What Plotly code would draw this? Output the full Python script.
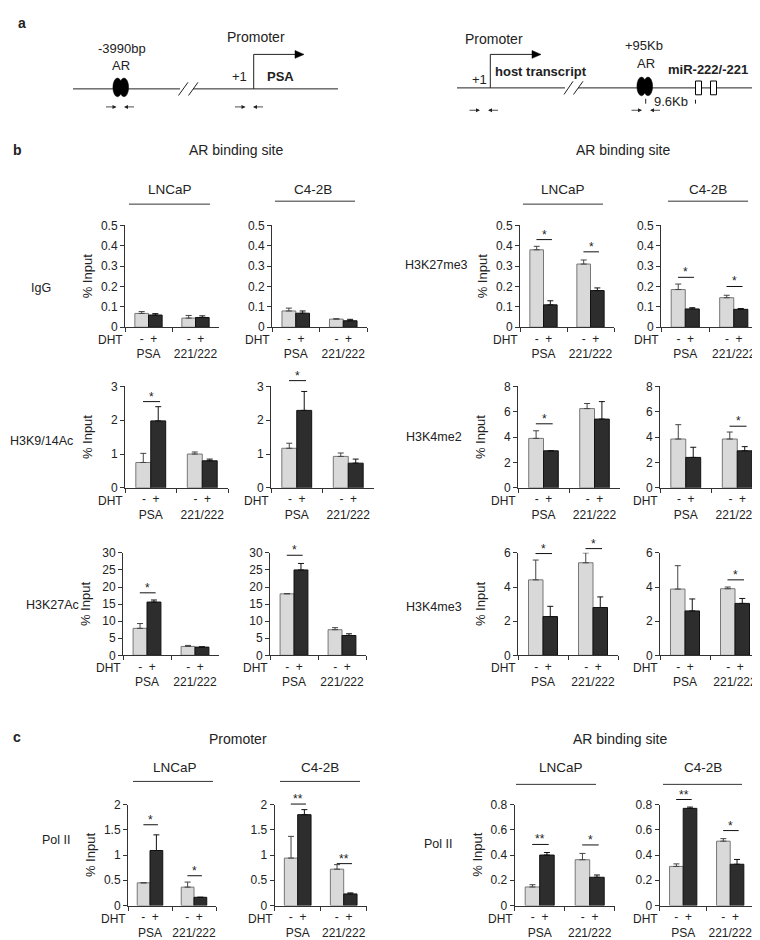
import plotly.graph_objects as go

W, H = 760, 940
FONT = "Liberation Sans, Arial, sans-serif"
TXT = "#222222"


def px(x):
    return x / W


def py(y):
    return 1 - y / H


# ---------------- data ----------------
categories = ["PSA", "221/222"]
dht_labels = ["-", "+"]

# Panel b, AR binding site (DHT - / DHT +, mean and error), % Input
igg_lncap_neg = [0.068, 0.045]
igg_lncap_neg_err = [0.009, 0.013]
igg_lncap_pos = [0.060, 0.048]
igg_lncap_pos_err = [0.007, 0.008]

igg_c42b_neg = [0.080, 0.040]
igg_c42b_neg_err = [0.014, 0.002]
igg_c42b_pos = [0.069, 0.032]
igg_c42b_pos_err = [0.011, 0.007]

k27me3_lncap_neg = [0.38, 0.31]
k27me3_lncap_neg_err = [0.017, 0.02]
k27me3_lncap_pos = [0.11, 0.18]
k27me3_lncap_pos_err = [0.02, 0.013]

k27me3_c42b_neg = [0.185, 0.145]
k27me3_c42b_neg_err = [0.027, 0.012]
k27me3_c42b_pos = [0.09, 0.088]
k27me3_c42b_pos_err = [0.006, 0.004]

k9ac_lncap_neg = [0.75, 1.0]
k9ac_lncap_neg_err = [0.27, 0.06]
k9ac_lncap_pos = [1.98, 0.8]
k9ac_lncap_pos_err = [0.42, 0.05]

k9ac_c42b_neg = [1.17, 0.93]
k9ac_c42b_neg_err = [0.15, 0.10]
k9ac_c42b_pos = [2.29, 0.73]
k9ac_c42b_pos_err = [0.56, 0.12]

k4me2_lncap_neg = [3.9, 6.25]
k4me2_lncap_neg_err = [0.6, 0.4]
k4me2_lncap_pos = [2.92, 5.42]
k4me2_lncap_pos_err = [0.0, 1.38]

k4me2_c42b_neg = [3.85, 3.85]
k4me2_c42b_neg_err = [1.13, 0.55]
k4me2_c42b_pos = [2.4, 2.92]
k4me2_c42b_pos_err = [0.8, 0.33]

k27ac_lncap_neg = [7.9, 2.6]
k27ac_lncap_neg_err = [1.4, 0.3]
k27ac_lncap_pos = [15.6, 2.4]
k27ac_lncap_pos_err = [0.6, 0.1]

k27ac_c42b_neg = [18.0, 7.5]
k27ac_c42b_neg_err = [0.1, 0.6]
k27ac_c42b_pos = [25.0, 5.8]
k27ac_c42b_pos_err = [1.9, 0.5]

k4me3_lncap_neg = [4.42, 5.42]
k4me3_lncap_neg_err = [1.16, 0.58]
k4me3_lncap_pos = [2.27, 2.8]
k4me3_lncap_pos_err = [0.6, 0.62]

k4me3_c42b_neg = [3.88, 3.9]
k4me3_c42b_neg_err = [1.37, 0.1]
k4me3_c42b_pos = [2.6, 3.04]
k4me3_c42b_pos_err = [0.7, 0.29]

# Panel c, Pol II
pol2_prom_lncap_neg = [0.45, 0.365]
pol2_prom_lncap_neg_err = [0.0, 0.1]
pol2_prom_lncap_pos = [1.09, 0.163]
pol2_prom_lncap_pos_err = [0.31, 0.0]

pol2_prom_c42b_neg = [0.94, 0.72]
pol2_prom_c42b_neg_err = [0.43, 0.09]
pol2_prom_c42b_pos = [1.8, 0.23]
pol2_prom_c42b_pos_err = [0.1, 0.02]

pol2_ar_lncap_neg = [0.147, 0.363]
pol2_ar_lncap_neg_err = [0.018, 0.05]
pol2_ar_lncap_pos = [0.40, 0.224]
pol2_ar_lncap_pos_err = [0.02, 0.018]

pol2_ar_c42b_neg = [0.31, 0.51]
pol2_ar_c42b_neg_err = [0.02, 0.02]
pol2_ar_c42b_pos = [0.77, 0.327]
pol2_ar_c42b_pos_err = [0.01, 0.038]

# significance marks: (category index, level, label)
sig_k27me3_lncap = [(0, 0.43, "*"), (1, 0.37, "*")]
sig_k27me3_c42b = [(0, 0.245, "*"), (1, 0.20, "*")]
sig_k9ac_lncap = [(0, 2.55, "*")]
sig_k9ac_c42b = [(0, 3.17, "*")]
sig_k4me2_lncap = [(0, 5.05, "*")]
sig_k4me2_c42b = [(1, 4.86, "*")]
sig_k27ac_lncap = [(0, 18.3, "*")]
sig_k27ac_c42b = [(0, 29.3, "*")]
sig_k4me3_lncap = [(0, 5.96, "*"), (1, 6.25, "*")]
sig_k4me3_c42b = [(1, 4.42, "*")]
sig_pol2_prom_lncap = [(0, 1.6, "*"), (1, 0.59, "*")]
sig_pol2_prom_c42b = [(0, 2.01, "**"), (1, 0.83, "**")]
sig_pol2_ar_lncap = [(0, 0.484, "**"), (1, 0.48, "*")]
sig_pol2_ar_c42b = [(0, 0.84, "**"), (1, 0.594, "*")]

# ---------------- panel geometry (pixels) ----------------
# (neg, neg_err, pos, pos_err, sig, x0, width, top, bottom, ymax, dtick, ytitle)
panels = [
    (igg_lncap_neg, igg_lncap_neg_err, igg_lncap_pos, igg_lncap_pos_err, [], 117, 94, 213.5, 317, 0.5, 0.1, True),
    (igg_c42b_neg, igg_c42b_neg_err, igg_c42b_pos, igg_c42b_pos_err, [], 264, 95, 213.5, 317, 0.5, 0.1, False),
    (k27me3_lncap_neg, k27me3_lncap_neg_err, k27me3_lncap_pos, k27me3_lncap_pos_err, sig_k27me3_lncap, 512, 94, 213.5, 317, 0.5, 0.1, True),
    (k27me3_c42b_neg, k27me3_c42b_neg_err, k27me3_c42b_pos, k27me3_c42b_pos_err, sig_k27me3_c42b, 653, 97, 213.5, 317, 0.5, 0.1, False),
    (k9ac_lncap_neg, k9ac_lncap_neg_err, k9ac_lncap_pos, k9ac_lncap_pos_err, sig_k9ac_lncap, 117, 103, 377, 480, 3, 1, True),
    (k9ac_c42b_neg, k9ac_c42b_neg_err, k9ac_c42b_pos, k9ac_c42b_pos_err, sig_k9ac_c42b, 263, 103, 377, 480, 3, 1, False),
    (k4me2_lncap_neg, k4me2_lncap_neg_err, k4me2_lncap_pos, k4me2_lncap_pos_err, sig_k4me2_lncap, 510, 102, 377, 480, 8, 2, True),
    (k4me2_c42b_neg, k4me2_c42b_neg_err, k4me2_c42b_pos, k4me2_c42b_pos_err, sig_k4me2_c42b, 652, 103, 377, 480, 8, 2, False),
    (k27ac_lncap_neg, k27ac_lncap_neg_err, k27ac_lncap_pos, k27ac_lncap_pos_err, sig_k27ac_lncap, 115, 96, 546, 650, 30, 5, True),
    (k27ac_c42b_neg, k27ac_c42b_neg_err, k27ac_c42b_pos, k27ac_c42b_pos_err, sig_k27ac_c42b, 262, 96, 546, 650, 30, 5, False),
    (k4me3_lncap_neg, k4me3_lncap_neg_err, k4me3_lncap_pos, k4me3_lncap_pos_err, sig_k4me3_lncap, 510, 100, 546, 650, 6, 2, True),
    (k4me3_c42b_neg, k4me3_c42b_neg_err, k4me3_c42b_pos, k4me3_c42b_pos_err, sig_k4me3_c42b, 652, 100, 546, 650, 6, 2, False),
    (pol2_prom_lncap_neg, pol2_prom_lncap_neg_err, pol2_prom_lncap_pos, pol2_prom_lncap_pos_err, sig_pol2_prom_lncap, 120, 88, 801.5, 904, 2, 0.5, True),
    (pol2_prom_c42b_neg, pol2_prom_c42b_neg_err, pol2_prom_c42b_pos, pol2_prom_c42b_pos_err, sig_pol2_prom_c42b, 266.7, 92, 801.5, 904, 2, 0.5, False),
    (pol2_ar_lncap_neg, pol2_ar_lncap_neg_err, pol2_ar_lncap_pos, pol2_ar_lncap_pos_err, sig_pol2_ar_lncap, 506.7, 100, 801.5, 904, 0.8, 0.2, True),
    (pol2_ar_c42b_neg, pol2_ar_c42b_neg_err, pol2_ar_c42b_pos, pol2_ar_c42b_pos_err, sig_pol2_ar_c42b, 651.7, 94, 801.5, 904, 0.8, 0.2, False),
]

BAR_W = 0.29
LIGHT, LIGHT_LINE = "#d9d9d9", "#777777"
DARK, DARK_LINE = "#2d2d2d", "#111111"
AXC = "#333333"

fig = go.Figure()
layout = dict(
    width=W, height=H, margin=dict(l=0, r=0, t=0, b=0),
    paper_bgcolor="white", plot_bgcolor="white",
    showlegend=False, barmode="overlay",
    font=dict(family=FONT, size=12, color=TXT),
)
shapes = []
annotations = []

nb = "\u00a0"
ticktext = [f"{dht_labels[0]}{nb*2}{dht_labels[1]}<br>{c}" for c in categories]

for i, (neg, nerr, pos, perr, sig, x0, w, top, bot, ymax, dtick, ytitle) in enumerate(panels):
    n = "" if i == 0 else str(i + 1)
    xid, yid = "x" + n, "y" + n
    fig.add_trace(go.Bar(
        x=categories, y=neg, xaxis=xid, yaxis=yid, width=BAR_W, offset=-BAR_W,
        marker=dict(color=LIGHT, line=dict(color=LIGHT_LINE, width=1)),
        error_y=dict(type="data", array=nerr, arrayminus=[0] * len(nerr), symmetric=False,
                     color="#444444", thickness=1, width=3),
    ))
    fig.add_trace(go.Bar(
        x=categories, y=pos, xaxis=xid, yaxis=yid, width=BAR_W, offset=0,
        marker=dict(color=DARK, line=dict(color=DARK_LINE, width=1)),
        error_y=dict(type="data", array=perr, arrayminus=[0] * len(perr), symmetric=False,
                     color="#111111", thickness=1, width=3),
    ))
    layout["xaxis" + n] = dict(
        domain=[px(x0), px(x0 + w)], anchor=yid, type="category",
        categoryorder="array", categoryarray=categories, range=[-0.5, 1.5],
        showline=True, linecolor=AXC, linewidth=1, ticks="outside", tickson="boundaries",
        ticklen=4, tickcolor=AXC, tickvals=categories, ticktext=ticktext, tickangle=0,
        tickfont=dict(size=12, color=TXT), showgrid=False, zeroline=False, fixedrange=True,
    )
    layout["yaxis" + n] = dict(
        domain=[py(bot), py(top)], anchor=xid, range=[0, ymax], dtick=dtick, tick0=0,
        showline=True, linecolor=AXC, linewidth=1, ticks="outside", ticklen=4, tickcolor=AXC,
        tickfont=dict(size=12, color=TXT), showgrid=False, zeroline=False, fixedrange=True,
    )
    # DHT label
    annotations.append(dict(text="DHT", xref=xid + " domain", yref=yid + " domain", x=0, y=0,
                            xanchor="right", yanchor="middle", yshift=-13, showarrow=False,
                            font=dict(size=12)))
    if ytitle:
        annotations.append(dict(text="% Input", xref=xid + " domain", yref=yid + " domain",
                                x=0, y=0.5, xshift=-38, textangle=-90, showarrow=False,
                                xanchor="center", yanchor="middle", font=dict(size=13)))
    for (ci, level, lab) in sig:
        shapes.append(dict(type="line", xref=xid, yref=yid + " domain",
                           x0=ci - 0.15, x1=ci + 0.18, y0=level / ymax, y1=level / ymax,
                           line=dict(color="#111111", width=1)))
        annotations.append(dict(text=lab, xref=xid, yref=yid + " domain", x=ci + 0.015,
                                y=level / ymax, yanchor="bottom", yshift=-4, showarrow=False,
                                font=dict(size=12)))


# ---------------- text labels ----------------
def label(text, x, y, size=12.5, bold=False, anchor="center"):
    t = f"<b>{text}</b>" if bold else text
    annotations.append(dict(text=t, xref="paper", yref="paper", x=px(x), y=py(y),
                            xanchor=anchor, yanchor="middle", showarrow=False,
                            font=dict(size=size, color=TXT)))


def hline(x0, x1, y, color="#222222", width=1):
    shapes.append(dict(type="line", xref="paper", yref="paper", x0=px(x0), x1=px(x1),
                       y0=py(y), y1=py(y), line=dict(color=color, width=width)))


def seg(x0, y0, x1, y1, color="#222222", width=1):
    shapes.append(dict(type="line", xref="paper", yref="paper", x0=px(x0), x1=px(x1),
                       y0=py(y0), y1=py(y1), line=dict(color=color, width=width)))


label("a", 8, 8, size=14, bold=True, anchor="left")
label("b", 3, 137, size=14, bold=True, anchor="left")
label("c", 3, 733, size=14, bold=True, anchor="left")

label("AR binding site", 228, 137, size=14)
label("AR binding site", 615, 137, size=14)
label("Promoter", 230, 735, size=14)
label("AR binding site", 612, 735, size=14)

for (t, x, y, lx0, lx1, ly) in [
    ("LNCaP", 162, 177, 121, 202, 192), ("C4-2B", 305, 177, 267, 347, 189),
    ("LNCaP", 555, 177, 515, 595, 192), ("C4-2B", 700, 177, 660, 740, 189),
    ("LNCaP", 167, 764, 125, 205, 778), ("C4-2B", 312, 764, 272, 352, 778),
    ("LNCaP", 553, 764, 508, 588, 781), ("C4-2B", 695, 764, 655, 734, 781),
]:
    label(t, x, y, size=13.5)
    hline(lx0, lx1, ly, color="#333333")

for (t, x, y) in [("IgG", 33, 277), ("H3K27me3", 428, 254), ("H3K9/14Ac", 33, 432),
                  ("H3K4me2", 426, 428), ("H3K27Ac", 44, 599), ("H3K4me3", 426, 601),
                  ("Pol II", 48, 837), ("Pol II", 430, 842)]:
    label(t, x, y, size=12.5)

# ---------------- panel a schematic ----------------
# left locus (PSA)
hline(65, 172, 75)
hline(185, 330, 75)
seg(170.5, 81.7, 180, 68.3)
seg(180.5, 81.7, 190, 68.3)
for cx in (109.5, 116):
    shapes.append(dict(type="circle", xref="paper", yref="paper", x0=px(cx - 4.6), x1=px(cx + 4.6),
                       y0=py(83), y1=py(64), fillcolor="black", line=dict(color="black", width=0.5)))
label("-3990bp", 114, 34, size=13)
label("AR", 113, 51, size=13)
seg(245.7, 75, 245.7, 40)
seg(245.7, 40, 289, 40)
shapes.append(dict(type="path", xref="paper", yref="paper", fillcolor="black",
                   line=dict(color="black", width=0.5),
                   path=f"M {px(296)},{py(40)} L {px(287)},{py(36)} L {px(287)},{py(44)} Z"))
label("Promoter", 248, 22, size=14)
label("+1", 231, 62, size=13)
label("PSA", 272, 62, size=13, bold=True)

# right locus (miR-222/-221)
hline(449, 557, 74)
hline(570, 748, 74)
seg(556, 80.7, 565, 67.3)
seg(565.5, 80.7, 575, 67.3)
seg(482.3, 74, 482.3, 40)
seg(482.3, 40, 526, 40)
shapes.append(dict(type="path", xref="paper", yref="paper", fillcolor="black",
                   line=dict(color="black", width=0.5),
                   path=f"M {px(533)},{py(40)} L {px(524)},{py(36)} L {px(524)},{py(44)} Z"))
label("Promoter", 486, 24, size=14)
label("+1", 471, 65, size=13)
label("host transcript", 533, 57, size=13, bold=True)
for cx in (633.5, 640):
    shapes.append(dict(type="circle", xref="paper", yref="paper", x0=px(cx - 4.6), x1=px(cx + 4.6),
                       y0=py(82), y1=py(63), fillcolor="black", line=dict(color="black", width=0.5)))
label("+95Kb", 636, 31, size=13)
label("AR", 638, 49, size=13)
label("miR-222/-221", 700, 55, size=13, bold=True)
for (bx0, bx1) in ((687.5, 693.5), (702.5, 708.5)):
    shapes.append(dict(type="rect", xref="paper", yref="paper", x0=px(bx0), x1=px(bx1),
                       y0=py(81), y1=py(67), fillcolor="white", line=dict(color="black", width=1)))
seg(637.7, 85, 637.7, 90)
seg(687.5, 86, 687.5, 90)
label("9.6Kb", 663, 88, size=13)

# primer arrows: (tip x, tail x, y)
for (tip, tail, y) in [(108.5, 96.5, 93.3), (116, 127.5, 93.3), (237.5, 225.5, 93.3), (245, 256.5, 93.3),
                       (472, 460, 96.7), (480, 491.5, 96.7), (634, 622, 96.7), (642, 653.5, 96.7)]:
    annotations.append(dict(x=px(tip), y=py(y), xref="paper", yref="paper", ax=tail - tip, ay=0,
                            axref="pixel", ayref="pixel", text="", showarrow=True,
                            arrowhead=2, arrowsize=1, arrowwidth=0.8, arrowcolor="#222222"))

layout["shapes"] = shapes
layout["annotations"] = annotations
fig.update_layout(**layout)
fig.write_html("out.html")
